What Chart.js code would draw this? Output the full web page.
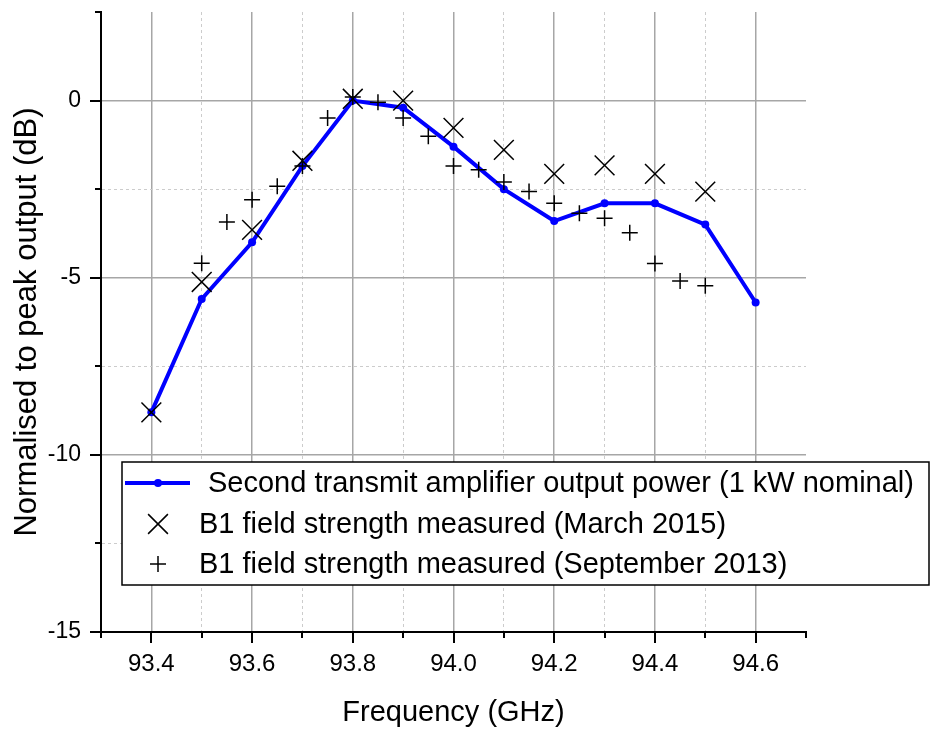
<!DOCTYPE html>
<html>
<head>
<meta charset="utf-8">
<script src="https://cdn.jsdelivr.net/npm/chart.js@4"></script>
<style>
html,body{margin:0;padding:0;background:#fff;}
#wrap{width:930px;height:729px;position:relative;}
</style>
</head>
<body>
<div id="wrap"><canvas id="c"></canvas></div>
<script>
// ---- data ----
const ampFreq  = [93.4, 93.5, 93.6, 93.7, 93.8, 93.9, 94.0, 94.1, 94.2, 94.3, 94.4, 94.5, 94.6];
const ampPower = [-8.8, -5.6, -4.0, -1.85, 0.0, -0.2, -1.3, -2.5, -3.4, -2.9, -2.9, -3.5, -5.7];

const march2015Freq  = [93.4, 93.5, 93.6, 93.7, 93.8, 93.9, 94.0, 94.1, 94.2, 94.3, 94.4, 94.5];
const march2015Field = [-8.8, -5.12, -3.65, -1.7, 0.05, 0.0, -0.77, -1.39, -2.07, -1.83, -2.07, -2.57];

const sept2013Freq  = [93.5, 93.55, 93.6, 93.65, 93.7, 93.75, 93.8, 93.85, 93.9, 93.95, 94.0,
                       94.05, 94.1, 94.15, 94.2, 94.25, 94.3, 94.35, 94.4, 94.45, 94.5];
const sept2013Field = [-4.59, -3.43, -2.8, -2.42, -1.85, -0.49, 0.1, -0.05, -0.49, -1.01, -1.85,
                       -1.95, -2.3, -2.57, -2.9, -3.18, -3.32, -3.73, -4.6, -5.09, -5.23];

const seriesLabels = [
  'Second transmit amplifier output power (1 kW nominal)',
  'B1 field strength measured (March 2015)',
  'B1 field strength measured (September 2013)'
];
const xTickLabels = ['93.4', '93.6', '93.8', '94.0', '94.2', '94.4', '94.6'];
const yTickLabels = ['-15', '-10', '-5', '0'];
const xTitle = 'Frequency (GHz)';
const yTitle = 'Normalised to peak output (dB)';

// ---- helpers ----
const FONT = "'Liberation Sans', Arial, Helvetica, sans-serif";
const toPts = (xs, ys) => xs.map((x, i) => ({x: x, y: ys[i]}));
const xLabelFor = v => { const s = v.toFixed(1); return xTickLabels.includes(s) ? s : ''; };
const yLabelFor = v => { const s = String(Math.round(v * 10) / 10); return yTickLabels.includes(s) ? s : ''; };
const xIsMajor = v => xLabelFor(v) !== '';
const yIsMajor = v => yLabelFor(v) !== '';

const tickMarks = {
  id: 'tickMarks',
  afterDraw(chart) {
    const ctx = chart.ctx, xs = chart.scales.x, ys = chart.scales.y, ca = chart.chartArea;
    ctx.save();
    ctx.strokeStyle = '#000';
    ctx.lineWidth = 2;
    ctx.beginPath();
    xs.ticks.forEach(t => {
      const px = Math.round(xs.getPixelForValue(t.value));
      const len = xIsMajor(t.value) ? 11 : 6;
      ctx.moveTo(px, ca.bottom); ctx.lineTo(px, ca.bottom + len);
    });
    ys.ticks.forEach(t => {
      const py = Math.round(ys.getPixelForValue(t.value));
      const len = yIsMajor(t.value) ? 11 : 6;
      ctx.moveTo(ca.left, py); ctx.lineTo(ca.left - len, py);
    });
    ctx.stroke();
    ctx.restore();
  }
};

const boxLegend = {
  id: 'boxLegend',
  afterDraw(chart, args, opts) {
    const ctx = chart.ctx;
    const ds = chart.data.datasets;
    const L = opts.left, T = opts.top, R = opts.right, B = opts.bottom;
    ctx.save();
    ctx.fillStyle = '#fff';
    ctx.fillRect(L, T, R - L, B - T);
    ctx.strokeStyle = '#000';
    ctx.lineWidth = 1.5;
    ctx.strokeRect(L, T, R - L, B - T);
    ctx.font = opts.fontSize + 'px ' + FONT;
    ctx.textBaseline = 'middle';
    ctx.fillStyle = '#000';
    opts.rows.forEach((rowY, i) => {
      const d = ds[i];
      const mx = opts.markerX;
      if (i === 0) {
        ctx.strokeStyle = d.borderColor;
        ctx.lineWidth = d.borderWidth;
        ctx.beginPath();
        ctx.moveTo(L + 3, rowY); ctx.lineTo(L + 68, rowY);
        ctx.stroke();
        ctx.fillStyle = d.pointBackgroundColor;
        ctx.beginPath(); ctx.arc(mx, rowY, d.pointRadius, 0, Math.PI * 2); ctx.fill();
        ctx.fillStyle = '#000';
        ctx.fillText(d.label, opts.textX[0], rowY + 1);
      } else {
        ctx.strokeStyle = d.borderColor;
        ctx.lineWidth = d.pointBorderWidth;
        Chart.helpers.drawPoint(ctx, {pointStyle: d.pointStyle, radius: d.pointRadius, rotation: 0, borderWidth: d.pointBorderWidth}, mx, rowY);
        ctx.fillStyle = '#000';
        ctx.fillText(d.label, opts.textX[1], rowY + 1);
      }
    });
    ctx.restore();
  }
};

new Chart(document.getElementById('c'), {
  type: 'line',
  data: {
    datasets: [
      {
        label: seriesLabels[0],
        data: toPts(ampFreq, ampPower),
        borderColor: '#0000ff',
        backgroundColor: '#0000ff',
        borderWidth: 4,
        pointRadius: 4,
        pointBorderWidth: 0,
        pointBackgroundColor: '#0000ff',
        tension: 0,
        fill: false,
        order: 3
      },
      {
        label: seriesLabels[1],
        data: toPts(march2015Freq, march2015Field),
        showLine: false,
        pointStyle: 'crossRot',
        pointRadius: 14,
        pointBorderWidth: 1.5,
        borderColor: '#000',
        backgroundColor: '#000',
        order: 1
      },
      {
        label: seriesLabels[2],
        data: toPts(sept2013Freq, sept2013Field),
        showLine: false,
        pointStyle: 'cross',
        pointRadius: 8,
        pointBorderWidth: 1.5,
        borderColor: '#000',
        backgroundColor: '#000',
        order: 2
      }
    ]
  },
  options: {
    responsive: true,
    maintainAspectRatio: false,
    animation: false,
    events: [],
    layout: {autoPadding: false, padding: {left: 0, top: 12, right: 124, bottom: 0}},
    plugins: {
      legend: {display: false},
      tooltip: {enabled: false},
      boxLegend: {
        left: 122, top: 462, right: 929, bottom: 585,
        rows: [483, 524, 564], markerX: 158, textX: [208, 199], fontSize: 29
      }
    },
    scales: {
      x: {
        type: 'linear',
        min: 93.3, max: 94.7,
        afterFit: s => { s.height = 97; s.paddingLeft = 0; s.paddingRight = 0; },
        ticks: {
          stepSize: 0.1,
          autoSkip: false,
          maxRotation: 0,
          padding: 18,
          color: '#000',
          font: {family: FONT, size: 24},
          callback: v => xLabelFor(v)
        },
        grid: {
          drawTicks: false,
          lineWidth: c => (c.tick && xIsMajor(c.tick.value)) ? 1.5 : 1,
          color: c => {
            if (!c.tick) return 'transparent';
            const v = Math.round(c.tick.value * 10);
            if (v === 933 || v === 947) return 'transparent';
            return xIsMajor(c.tick.value) ? '#a6a6a6' : '#cccccc';
          }
        },
        border: {
          display: true, color: '#000', width: 2,
          dash: c => (c.tick && !xIsMajor(c.tick.value)) ? [3, 3] : []
        },
        title: {
          display: true, text: xTitle, color: '#000',
          font: {family: FONT, size: 29, lineHeight: 1},
          padding: {top: 0, bottom: 2}
        }
      },
      y: {
        type: 'linear',
        min: -15, max: 2.5,
        afterFit: s => { s.width = 101; s.paddingTop = 0; s.paddingBottom = 0; },
        ticks: {
          stepSize: 2.5,
          autoSkip: false,
          padding: 20,
          color: '#000',
          font: {family: FONT, size: 23},
          callback: v => yLabelFor(v)
        },
        grid: {
          drawTicks: false,
          lineWidth: c => (c.tick && yIsMajor(c.tick.value)) ? 1.5 : 1,
          color: c => {
            if (!c.tick) return 'transparent';
            if (c.tick.value === 2.5 || c.tick.value === -15) return 'transparent';
            return yIsMajor(c.tick.value) ? '#a6a6a6' : '#cccccc';
          }
        },
        border: {
          display: true, color: '#000', width: 2,
          dash: c => (c.tick && !yIsMajor(c.tick.value)) ? [3, 3] : []
        },
        title: {
          display: true, text: yTitle, color: '#000',
          font: {family: FONT, size: 31, lineHeight: 1},
          padding: {top: 12, bottom: 0}
        }
      }
    }
  },
  plugins: [tickMarks, boxLegend]
});
</script>
</body>
</html>
